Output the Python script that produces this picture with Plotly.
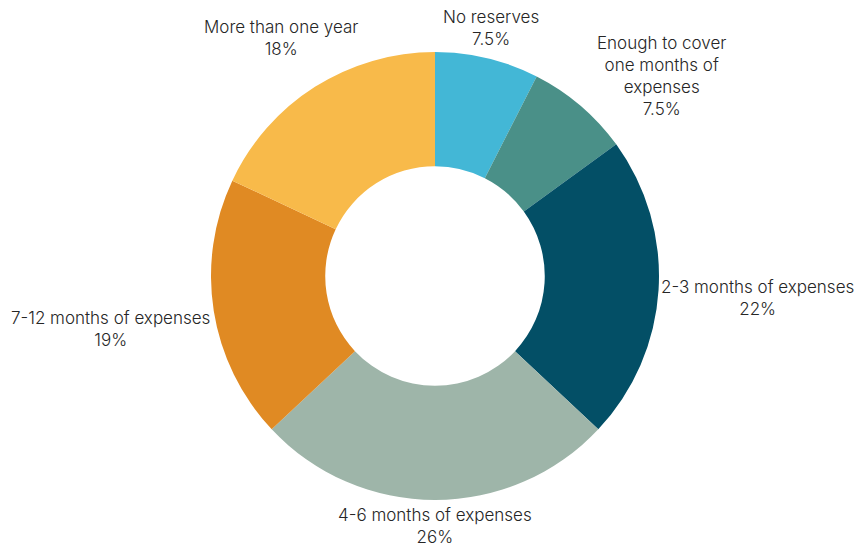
import math
import plotly.graph_objects as go

categories = [
    "No reserves",
    "Enough to cover<br>one months of<br>expenses",
    "2-3 months of expenses",
    "4-6 months of expenses",
    "7-12 months of expenses",
    "More than one year",
]
shares = [7.5, 7.5, 22, 26, 19, 18]
share_labels = ["7.5%", "7.5%", "22%", "26%", "19%", "18%"]
colors = ["#43B7D6", "#4A9088", "#034F66", "#9EB5A9", "#E08A23", "#F8BA4A"]

W, H = 854, 548
CX, CY, R = 435, 276, 224          # ring centre and outer radius, px
FONT_SIZE = 17
CHAR_W = 8.7                        # approx advance per character, px
LINE_H = 22
# extra pixel shift for labels that sit off their slice's mid-angle
label_nudge = [(-4, 3), (30, 30), (0, 2), (0, 2), (0, 2), (0, 4)]

fig = go.Figure(
    go.Pie(
        labels=categories,
        values=shares,
        textinfo="none",
        hole=0.49,
        sort=False,
        direction="clockwise",
        rotation=0,
        marker=dict(colors=colors, line=dict(width=0)),
        domain=dict(x=[(CX - R) / W, (CX + R) / W], y=[1 - (CY + R) / H, 1 - (CY - R) / H]),
        showlegend=False,
        hoverinfo="label+percent",
    )
)

# Outside labels: placed on each slice's mid-angle, pushed clear of the ring
total = sum(shares)
cum = 0.0
gap = 2
for cat, val, lab, (nx, ny) in zip(categories, shares, share_labels, label_nudge):
    mid = (cum + val / 2) / total * 2 * math.pi
    cum += val
    lines = cat.split("<br>") + [lab]
    half_w = max(len(s) for s in lines) * CHAR_W / 2
    half_h = len(lines) * LINE_H / 2
    s, c = math.sin(mid), math.cos(mid)
    d = R + gap + half_w * abs(s) + half_h * abs(c)
    px, py = CX + d * s + nx, CY - d * c + ny
    fig.add_annotation(
        x=px / W, y=1 - py / H, xref="paper", yref="paper",
        text=f"{cat}<br>{lab}", showarrow=False,
        xanchor="center", yanchor="middle", align="center",
        font=dict(family="Inter", size=FONT_SIZE, color="#262626", weight=300),
    )

fig.update_layout(
    width=W,
    height=H,
    paper_bgcolor="white",
    plot_bgcolor="white",
    margin=dict(l=0, r=0, t=0, b=0),
)

fig.write_html("out.html")
